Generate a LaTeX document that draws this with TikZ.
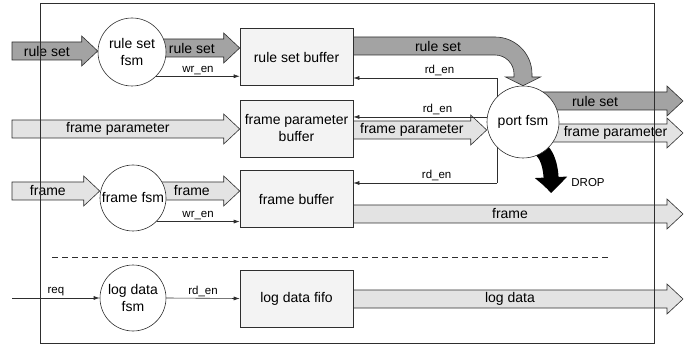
\documentclass[tikz,border=0pt]{standalone}
\usepackage{fontspec}
\setmainfont{Liberation Sans}
\usepackage{xcolor}
\usepackage{tikz}
\usetikzlibrary{arrows.meta, bending}
\usetikzlibrary{positioning}
\usetikzlibrary{calc}
\usetikzlibrary{backgrounds}
\definecolor{darkflow}{HTML}{A3A3A3}
\definecolor{lightflow}{HTML}{E3E3E3}
\definecolor{bufferfill}{HTML}{F3F3F3}
\definecolor{linegray}{HTML}{2E2E2E}

% fat data arrow: [label pos]{fill}{start coordinate}{target}{label}
\newcommand{\fatarrow}[5][0.5]{%
  \draw[fatline, fill=#2] ($(#3)+(0,-9)$) -- ($(#3 -| #4)+(-16,-9)$) -- ($(#3 -| #4)+(-16,-15)$)
    -- (#3 -| #4) -- ($(#3 -| #4)+(-16,15)$) -- ($(#3 -| #4)+(-16,9)$) -- ($(#3)+(0,9)$) -- cycle;
  \node[biglabel] at ($(#3)!#1!(#3 -| #4)+(-16*#1,0)$) {#5};
}

\begin{document}
\begin{tikzpicture}[x=1pt, y=-1pt, >={Latex[length=6pt, width=4pt]},
    fatline/.style={draw=linegray, line width=0.6pt, line join=miter},
    biglabel/.style={font=\fontsize{14}{17}\selectfont, inner sep=0pt},
    smalllabel/.style={font=\fontsize{11.5}{13}\selectfont, inner sep=1.5pt},
    signal/.style={draw=linegray, line width=0.6pt, ->}]
    \useasboundingbox (0,0) rectangle (690,347);
    \begin{scope}[every node/.style={circle,
        draw=linegray,
        fill=white,
        line width=0.6pt,
        inner sep=0pt,
        align=center,
        font=\fontsize{14}{17}\selectfont}]
        \node[minimum size=68pt] at (132,52) (rsfsm) {rule set\\fsm};
        \node[minimum size=66pt] at (133,198) (frfsm) {frame fsm};
        \node[minimum size=66pt] at (133,298) (logfsm) {log data\\fsm};
        \node[minimum size=72pt] at (523,122) (portfsm) {port fsm};
    \end{scope}
    \begin{scope}[every node/.style={rectangle,
        draw=linegray,
        fill=bufferfill,
        line width=0.6pt,
        minimum width=113pt,
        minimum height=57pt,
        inner sep=0pt,
        align=center,
        font=\fontsize{14}{17}\selectfont}]
        \node at (296.5,57) (rsbuf) {rule set buffer};
        \node at (296.5,128.5) (fpbuf) {frame parameter\\buffer};
        \node at (296.5,199) (frbuf) {frame buffer};
        \node at (296.5,298.5) (logfifo) {log data fifo};
    \end{scope}
    \node[smalllabel] at (588,183) (drop) {DROP};

    \coordinate (rsin) at (12,51);
    \coordinate (rsmid) at (160,48);
    \coordinate (fpin) at (12,129);
    \coordinate (fpmid) at (353,130);
    \coordinate (frin) at (12,191);
    \coordinate (frmid) at (160,191);
    \coordinate (reqin) at (12,298);
    \coordinate (rsout) at (523,101);
    \coordinate (fpout) at (550,133);
    \coordinate (frout) at (353,214);
    \coordinate (logout) at (353,299);
    \coordinate (outend) at (683,0);
    \coordinate (rsbend) at (495,74);
    \coordinate (rdtop) at (497,78);
    \coordinate (rdbot) at (497,183);
    \coordinate (dropstart) at (526,143);
    \coordinate (dropend) at (551,193);

    \begin{pgfonlayer}{background}
        \fatarrow{darkflow}{rsin}{rsfsm.west}{rule set}
        \fatarrow{darkflow}{rsmid}{rsbuf.west}{rule set}
        \fatarrow{lightflow}{fpin}{fpbuf.west}{frame parameter}
        \fatarrow{lightflow}{fpmid}{portfsm.west}{frame parameter}
        \fatarrow{lightflow}{frin}{frfsm.west}{frame}
        \fatarrow{lightflow}{frmid}{frbuf.west}{frame}
        \fatarrow{darkflow}{rsout}{outend}{rule set}
        \fatarrow[0.56]{lightflow}{fpout}{outend}{frame parameter}
        \fatarrow{lightflow}{frout}{outend}{frame}
        \fatarrow{lightflow}{logout}{outend}{log data}
        % rule set into the port fsm
        \draw[fatline, fill=darkflow] (rsbuf.east |- 0,37) -- ($(rsbend)+(0,-37)$)
            .. controls ($(rsbend)+(20.4,-37)$) and ($(rsbend)+(37,-20.4)$) .. ($(rsbend)+(37,0)$)
            -- ($(rsbend)+(37,3)$) -- ($(rsbend)+(45.5,3)$) -- (portfsm.north)
            -- ($(rsbend)+(10.5,3)$) -- ($(rsbend)+(19,3)$) -- ($(rsbend)+(19,0)$)
            .. controls ($(rsbend)+(19,-10.5)$) and ($(rsbend)+(10.5,-19)$) .. ($(rsbend)+(0,-19)$)
            -- (rsbuf.east |- 0,55) -- cycle;
        \node[biglabel] at (438,46) (rscurve) {rule set};
        \draw[black, line width=15pt, -{Triangle[length=16pt, width=31pt, bend]}]
            (dropstart) .. controls (545,145) and (553,162) .. (dropend);
        \draw[signal] (rsfsm.-45) -- node[above, smalllabel] {wr\_en} (rsfsm.-45 -| rsbuf.west);
        \draw[signal] (frfsm.-45) -- node[above, smalllabel] {wr\_en} (frfsm.-45 -| frbuf.west);
        \draw[signal] (rdbot) -- (rdtop) -- node[pos=0.4, above, smalllabel] {rd\_en} (rdtop -| rsbuf.east);
        \draw[signal] (portfsm.172) -- node[pos=0.37, above, smalllabel] {rd\_en} (portfsm.172 -| fpbuf.east);
        \draw[signal] (rdbot) -- node[pos=0.42, above, smalllabel] {rd\_en} (rdbot -| frbuf.east);
        \draw[signal] (reqin) -- node[above, smalllabel] {req} (logfsm.west);
        \draw[signal] (logfsm.east) -- node[above, smalllabel] {rd\_en} (logfifo.west);
    \end{pgfonlayer}

    \draw[linegray, line width=0.6pt, dash pattern=on 6pt off 4pt] (52,257) -- (610,257);
    \draw[linegray, line width=0.8pt] (40,3) rectangle (654,343);
\end{tikzpicture}
\end{document}
